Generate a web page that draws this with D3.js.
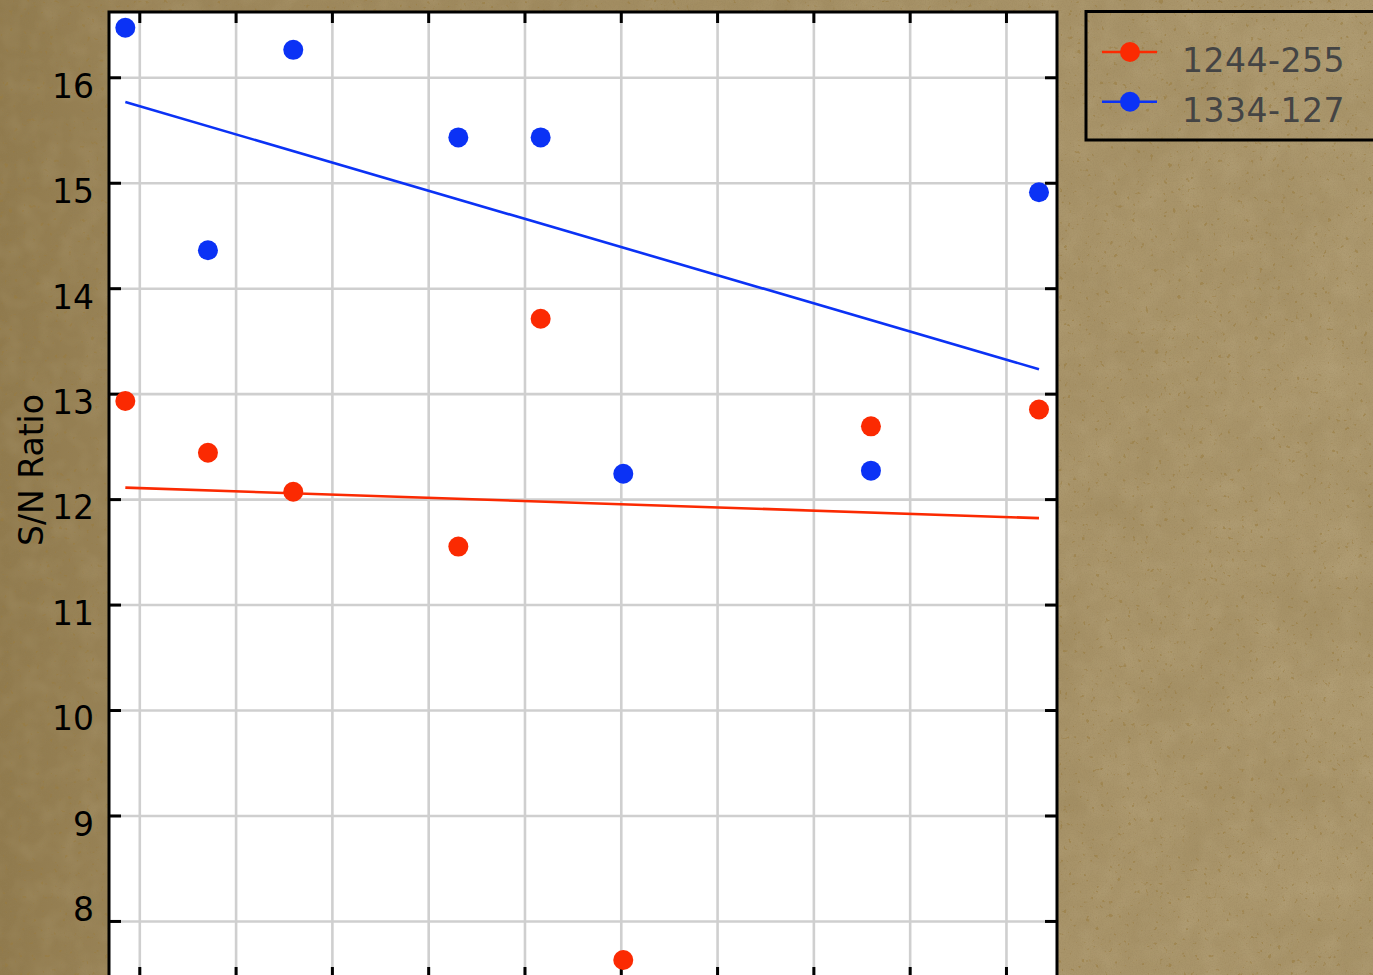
<!DOCTYPE html>
<html>
<head>
<meta charset="utf-8">
<script src="https://cdn.jsdelivr.net/npm/d3@7"></script>
<style>
  html, body { margin: 0; padding: 0; background: #a08a5f; overflow: hidden; }
  svg { display: block; }
  text { font-family: "DejaVu Sans", sans-serif; }
</style>
</head>
<body>
<svg id="chart" width="1373" height="975"></svg>
<script>
// Observation positions along the time axis (grid units) and S/N ratios per source
const obsX      = [-0.145, 0.713, 1.599, 3.313, 4.168, 5.026, 7.598, 9.343];
const ratio1244 = [12.93, 12.44, 12.07, 11.55, 13.71, 7.63, 12.69, 12.85];
const ratio1334 = [16.47, 14.36, 16.26, 15.43, 15.43, 12.24, 12.27, 14.91];
const seriesNames = ["1244-255", "1334-127"];
const xTickValues = [0, 1, 2, 3, 4, 5, 6, 7, 8, 9];
const yTickValues = [8, 9, 10, 11, 12, 13, 14, 15, 16];
const yAxisTitle = "S/N Ratio";

const W = 1373, H = 975;
const plot = { left: 109, right: 1057, top: 12, bottom: 978 };
const colors = ["#fb2a02", "#0b32f5"];

const svg = d3.select("#chart");
const defs = svg.append("defs");

// Paper-like backdrop
const grad = defs.append("linearGradient").attr("id", "paperTone")
  .attr("x1", 0).attr("x2", 1).attr("y1", 0).attr("y2", 0);
grad.append("stop").attr("offset", "0%").attr("stop-color", "#907a4d");
grad.append("stop").attr("offset", "12%").attr("stop-color", "#9d875b");
grad.append("stop").attr("offset", "100%").attr("stop-color", "#ad996f");

function noiseFilter(id, freq, octaves, seed, matrix) {
  const f = defs.append("filter").attr("id", id)
    .attr("x", 0).attr("y", 0).attr("width", "100%").attr("height", "100%");
  f.append("feTurbulence").attr("type", "fractalNoise")
    .attr("baseFrequency", freq).attr("numOctaves", octaves).attr("seed", seed);
  f.append("feColorMatrix").attr("type", "matrix").attr("values", matrix);
}
noiseFilter("grain", 0.75, 3, 4, "0 0 0 0 0.30  0 0 0 0 0.22  0 0 0 0 0.10  2.0 0 0 0 -0.80");
noiseFilter("mottle", 0.012, 3, 11, "0 0 0 0 0.28  0 0 0 0 0.20  0 0 0 0 0.08  1.6 0 0 0 -0.52");
noiseFilter("light", 0.05, 2, 17, "0 0 0 0 0.85  0 0 0 0 0.78  0 0 0 0 0.58  1.6 0 0 0 -0.62");
noiseFilter("speck", 0.22, 2, 21, "0 0 0 0 0.32  0 0 0 0 0.20  0 0 0 0 0.05  12 0 0 0 -8.2");

svg.append("rect").attr("width", W).attr("height", H).attr("fill", "url(#paperTone)");
svg.append("rect").attr("width", W).attr("height", H).attr("filter", "url(#mottle)").attr("opacity", 0.3);
svg.append("rect").attr("width", W).attr("height", H).attr("filter", "url(#light)").attr("opacity", 0.1);
svg.append("rect").attr("width", W).attr("height", H).attr("filter", "url(#grain)").attr("opacity", 0.3);
svg.append("rect").attr("width", W).attr("height", H).attr("filter", "url(#speck)").attr("opacity", 0.55);

// Scales
const x = d3.scaleLinear().domain([-0.3146, 9.53]).range([plot.left, plot.right]);
const y = d3.scaleLinear().domain([7.459, 16.619]).range([plot.bottom, plot.top]);

// Plot area
svg.append("rect")
  .attr("x", plot.left).attr("y", plot.top)
  .attr("width", plot.right - plot.left).attr("height", plot.bottom - plot.top)
  .attr("fill", "#ffffff");

// Grid
const grid = svg.append("g").attr("class", "grid");
grid.append("g").attr("transform", `translate(0,${plot.bottom})`)
  .call(d3.axisBottom(x).tickValues(xTickValues).tickSize(-(plot.bottom - plot.top)).tickFormat(""));
grid.append("g").attr("transform", `translate(${plot.left},0)`)
  .call(d3.axisLeft(y).tickValues(yTickValues).tickSize(-(plot.right - plot.left)).tickFormat(""));
grid.selectAll(".domain").remove();
grid.selectAll("line").attr("stroke", "#cfcfcf").attr("stroke-width", 2.6);

// Inward tick marks on all four sides
const ticks = svg.append("g").attr("class", "ticks");
const leftAxis = ticks.append("g").attr("transform", `translate(${plot.left},0)`)
  .call(d3.axisLeft(y).tickValues(yTickValues).tickSize(-12).tickSizeOuter(0).tickPadding(15));
ticks.append("g").attr("transform", `translate(${plot.right},0)`)
  .call(d3.axisRight(y).tickValues(yTickValues).tickSize(-12).tickSizeOuter(0).tickFormat(""));
ticks.append("g").attr("transform", `translate(0,${plot.top})`)
  .call(d3.axisTop(x).tickValues(xTickValues).tickSize(-11).tickSizeOuter(0).tickFormat(""));
ticks.append("g").attr("transform", `translate(0,${plot.bottom})`)
  .call(d3.axisBottom(x).tickValues(xTickValues).tickSize(-11).tickSizeOuter(0).tickFormat(""));
ticks.selectAll(".domain").remove();
ticks.selectAll("line").attr("stroke", "#000").attr("stroke-width", 3);
leftAxis.selectAll("text")
  .attr("font-size", 33).attr("fill", "#000")
  // the lowest label sits just above its gridline so it stays inside the frame
  .attr("dy", d => d === d3.min(yTickValues) ? "0em" : "0.6em")
  .style("font-family", "'DejaVu Sans', sans-serif");

// Least-squares trend for each series
function fit(xs, ys) {
  const mx = d3.mean(xs), my = d3.mean(ys);
  const sxy = d3.sum(xs, (v, i) => (v - mx) * (ys[i] - my));
  const sxx = d3.sum(xs, v => (v - mx) * (v - mx));
  const slope = sxy / sxx;
  return v => my + slope * (v - mx);
}
const series = [ratio1244, ratio1334];
const xExtent = d3.extent(obsX);
const line = d3.line().x(d => x(d[0])).y(d => y(d[1]));
series.forEach((vals, i) => {
  const f = fit(obsX, vals);
  svg.append("path")
    .attr("d", line(xExtent.map(v => [v, f(v)])))
    .attr("fill", "none").attr("stroke", colors[i]).attr("stroke-width", 2.6);
});

// Points
series.forEach((vals, i) => {
  svg.append("g").selectAll("circle").data(vals).join("circle")
    .attr("cx", (d, j) => x(obsX[j]))
    .attr("cy", d => y(d))
    .attr("r", 10)
    .attr("fill", colors[i]);
});

// Plot frame
svg.append("rect")
  .attr("x", plot.left).attr("y", plot.top)
  .attr("width", plot.right - plot.left).attr("height", plot.bottom - plot.top)
  .attr("fill", "none").attr("stroke", "#000").attr("stroke-width", 3);

// Axis title
svg.append("text")
  .attr("transform", `translate(43,470) rotate(-90)`)
  .attr("text-anchor", "middle")
  .attr("font-size", 33).attr("fill", "#000")
  .text(yAxisTitle);

// Legend
const legend = svg.append("g").attr("class", "legend");
legend.append("rect")
  .attr("x", 1086).attr("y", 11.5).attr("width", 300).attr("height", 128.5)
  .attr("fill", "none").attr("stroke", "#000").attr("stroke-width", 3);
const rowY = [52, 101.7];
seriesNames.forEach((name, i) => {
  const g = legend.append("g");
  g.append("line").attr("x1", 1102).attr("x2", 1157).attr("y1", rowY[i]).attr("y2", rowY[i])
    .attr("stroke", colors[i]).attr("stroke-width", 2.6);
  g.append("circle").attr("cx", 1130).attr("cy", rowY[i]).attr("r", 10).attr("fill", colors[i]);
  g.append("text").attr("x", 1182).attr("y", rowY[i] + 20)
    .attr("font-size", 33).attr("fill", "#444").attr("letter-spacing", 0.5)
    .text(name);
});
</script>
</body>
</html>
